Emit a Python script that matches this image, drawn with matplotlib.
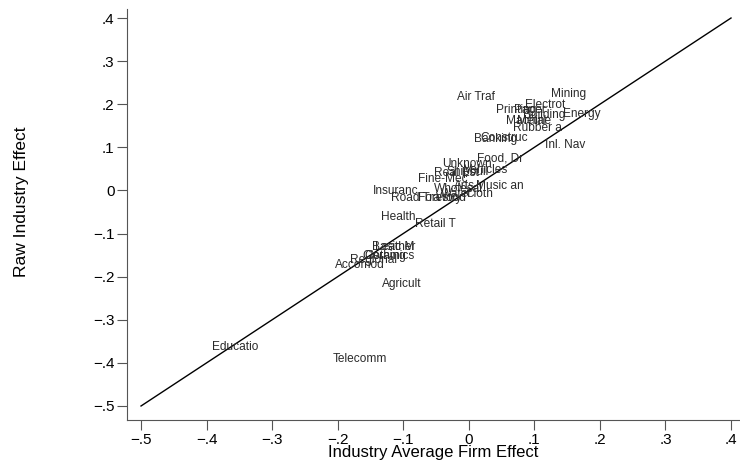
import matplotlib
matplotlib.use("Agg")
import matplotlib.pyplot as plt

industries = ["Mining", "Air Traf", "Electrot", "Printing", "Paper", "Building", "Energy",
              "Machine", "Metal", "Rubber a", "Banking", "Construc", "Inl. Nav", "Food, Dr",
              "Unknown", "Vehicles", "Real Est", "Shipbuil", "Fine-Mec", "Arts", "Music an",
              "Wholesal", "Water", "Cloth", "Insuranc", "Road Tra", "Forestry", "Wood",
              "Health", "Retail T", "Basic M", "Leather", "Clothing", "Ceramics", "Regional",
              "Accomod", "Agricult", "Educatio", "Telecomm"]
firm_effect = [0.126, -0.018, 0.086, 0.042, 0.069, 0.082, 0.144,
               0.057, 0.073, 0.068, 0.008, 0.018, 0.117, 0.013,
               -0.040, -0.007, -0.053, -0.034, -0.077, -0.022, 0.011,
               -0.053, -0.042, -0.005, -0.146, -0.118, -0.077, -0.050,
               -0.134, -0.082, -0.147, -0.143, -0.163, -0.160, -0.181,
               -0.204, -0.132, -0.392, -0.207]
raw_effect = [0.223, 0.217, 0.198, 0.186, 0.186, 0.175, 0.177,
              0.161, 0.161, 0.145, 0.119, 0.121, 0.105, 0.073,
              0.061, 0.047, 0.040, 0.042, 0.026, 0.010, 0.010,
              0.003, -0.008, -0.008, -0.002, -0.018, -0.018, -0.018,
              -0.062, -0.078, -0.132, -0.132, -0.153, -0.153, -0.162,
              -0.172, -0.216, -0.364, -0.390]
line_x = [-0.5, 0.4]
ticks = [-0.5, -0.4, -0.3, -0.2, -0.1, 0, 0.1, 0.2, 0.3, 0.4]
tick_labels = ["\u2212.5", "\u2212.4", "\u2212.3", "\u2212.2", "\u2212.1", "0", ".1", ".2", ".3", ".4"]

plt.rcParams['font.family'] = ['Liberation Sans', 'DejaVu Sans']
fig = plt.figure(figsize=(7.4, 4.67), dpi=100)
ax = fig.add_axes([127/740, 47/467, 613/740, 411/467])

ax.plot(line_x, line_x, color="black", lw=1.0)
for name, x, y in zip(industries, firm_effect, raw_effect):
    ax.text(x, y, name, ha="left", va="center", fontsize=8.6, color="#2a2a2a")

ax.set_xlim(-0.5214, 0.4137)
ax.set_ylim(-0.5325, 0.4209)
ax.set_xticks(ticks)
ax.set_xticklabels(tick_labels)
ax.set_yticks(ticks)
ax.set_yticklabels(tick_labels)
ax.tick_params(direction="out", length=7, width=0.8, color="#555555", labelsize=11, pad=2)
for s in ["top", "right"]:
    ax.spines[s].set_visible(False)
for s in ["left", "bottom"]:
    ax.spines[s].set_color("#555555")
    ax.spines[s].set_linewidth(0.8)
ax.set_xlabel("Industry Average Firm Effect", fontsize=12, labelpad=-1)
ax.set_ylabel("Raw Industry Effect", fontsize=12.5)
ax.yaxis.set_label_coords((29 - 127) / 613, (420 - 202) / 411)

fig.savefig("out.png", dpi=100)
